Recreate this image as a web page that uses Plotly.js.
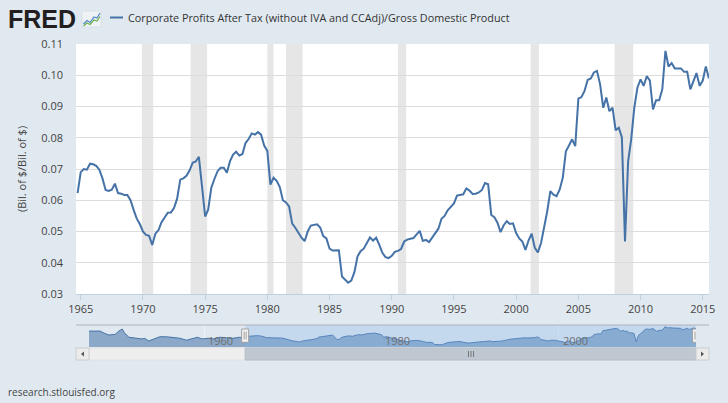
<!DOCTYPE html>
<html><head><meta charset="utf-8">
<script src="https://cdn.plot.ly/plotly-3.0.1.min.js"></script>
<style>html,body{margin:0;padding:0;background:#e1e9f0;}#chart{width:728px;height:403px;}</style>
</head><body><div id="chart"></div>
<script>
// ---------------- DATA ----------------
const seriesName = 'Corporate Profits After Tax (without IVA and CCAdj)/Gross Domestic Product';
const yAxisTitle = '(Bil. of $/Bil. of $)';
const sourceText = 'research.stlouisfed.org';
// quarterly observations starting 1964 Q4 (1964-10-01), ending 2015 Q3
const firstQuarterYear = 1964;
const firstQuarterIndex = 3; // Q4
const profitShare = [
 0.0623,0.0690,0.0700,0.0698,0.0717,0.0715,0.0710,0.0698,0.0670,0.0633,
 0.0630,0.0634,0.0653,0.0623,0.0621,0.0617,0.0617,0.0600,0.0570,0.0542,
 0.0524,0.0500,0.0489,0.0486,0.0457,0.0493,0.0504,0.0530,0.0545,0.0560,
 0.0561,0.0575,0.0605,0.0666,0.0670,0.0678,0.0695,0.0720,0.0724,0.0739,
 0.0645,0.0548,0.0570,0.0640,0.0668,0.0693,0.0704,0.0704,0.0688,0.0725,
 0.0746,0.0755,0.0743,0.0748,0.0783,0.0796,0.0814,0.0810,0.0818,0.0810,
 0.0775,0.0758,0.0650,0.0672,0.0662,0.0642,0.0600,0.0593,0.0580,0.0525,
 0.0512,0.0495,0.0480,0.0469,0.0500,0.0519,0.0520,0.0523,0.0513,0.0485,
 0.0478,0.0445,0.0439,0.0439,0.0440,0.0356,0.0347,0.0336,0.0343,0.0370,
 0.0420,0.0437,0.0445,0.0463,0.0481,0.0471,0.0480,0.0457,0.0432,0.0418,
 0.0415,0.0422,0.0435,0.0438,0.0444,0.0468,0.0474,0.0477,0.0479,0.0491,
 0.0502,0.0470,0.0473,0.0466,0.0480,0.0492,0.0509,0.0541,0.0550,0.0568,
 0.0578,0.0590,0.0615,0.0618,0.0619,0.0638,0.0631,0.0620,0.0621,0.0625,
 0.0633,0.0655,0.0651,0.0553,0.0546,0.0528,0.0498,0.0520,0.0533,0.0524,
 0.0526,0.0495,0.0478,0.0468,0.0441,0.0472,0.0493,0.0448,0.0433,0.0463,
 0.0511,0.0564,0.0629,0.0618,0.0613,0.0634,0.0672,0.0757,0.0775,0.0795,
 0.0773,0.0925,0.0930,0.0950,0.0985,0.0990,0.1009,0.1014,0.0971,0.0896,
 0.0929,0.0885,0.0896,0.0824,0.0832,0.0802,0.0468,0.0725,0.0795,0.0896,
 0.0961,0.0987,0.0966,0.0997,0.0983,0.0891,0.0920,0.0920,0.0955,0.1078,
 0.1028,0.1039,0.1022,0.1022,0.1022,0.1011,0.1011,0.0955,0.0983,0.1007,
 0.0966,0.0983,0.1028,0.0990
];
// earlier history shown only in the navigator (read from the small navigator strip)
const earlyDates = ['1947-01-01','1947-07-01','1948-01-01','1948-04-01','1948-10-01','1949-04-01',
 '1950-01-01','1950-04-01','1950-10-01','1951-01-01','1951-07-01','1952-04-01','1953-01-01',
 '1953-04-01','1953-10-01','1954-04-01','1955-01-01','1955-10-01','1956-07-01','1957-04-01',
 '1958-01-01','1958-10-01','1959-04-01','1959-10-01','1960-07-01','1961-01-01','1961-10-01',
 '1962-07-01','1963-04-01','1964-01-01'];
const earlyValues = [0.090,0.090,0.088,0.090,0.081,0.074,0.077,0.087,0.0985,0.083,0.065,0.061,0.058,
 0.061,0.050,0.057,0.067,0.067,0.065,0.061,0.053,0.061,0.065,0.058,0.061,0.058,0.065,0.063,0.061,0.065];
const tickYears = [1965,1970,1975,1980,1985,1990,1995,2000,2005,2010,2015];
const navTickYears = [1960,1980,2000];
const recessionStarts = ['1969-12-01','1973-11-01','1980-01-01','1981-07-01','1990-07-01','2001-03-01','2007-12-01'];
const recessionEnds   = ['1970-11-01','1975-03-01','1980-07-01','1982-11-01','1991-03-01','2001-11-01','2009-06-01'];
const viewStart = '1964-08-15', viewEnd = '2015-07-03';
const navStart = '1947-01-01', navEnd = '2015-07-01';

// ---------------- BUILD ----------------
const quarterDates = profitShare.map((v, j) => {
  const m = firstQuarterIndex + j;
  const yr = firstQuarterYear + Math.floor(m / 4);
  const mo = (m % 4) * 3 + 1;
  return yr + '-' + String(mo).padStart(2, '0') + '-01';
});

const W = 728, H = 403, mL = 76, mR = 19, mT = 44, mB = 43;
const pw = W - mL - mR, ph = H - mT - mB;
const X = px => (px - mL) / pw;
const Y = py => (H - mB - py) / ph;

const lineColor = '#4572A7';
const font = 'Open Sans, Noto Sans, sans-serif';

const traces = [
  {x: quarterDates, y: profitShare, type: 'scatter', mode: 'lines',
   line: {color: lineColor, width: 2}, xaxis: 'x', yaxis: 'y', hoverinfo: 'skip'},
  {x: earlyDates.concat(quarterDates), y: earlyValues.concat(profitShare), type: 'scatter', mode: 'lines',
   line: {color: lineColor, width: 1}, fill: 'tozeroy', fillcolor: 'rgba(69,114,167,0.55)',
   xaxis: 'x2', yaxis: 'y2', hoverinfo: 'skip'}
];

const shapes = [];
// white main plot background
shapes.push({type: 'rect', xref: 'x domain', yref: 'y domain', x0: 0, x1: 1, y0: 0, y1: 1,
  fillcolor: '#ffffff', line: {width: 0}, layer: 'below'});
// recession bands
recessionStarts.forEach((s, i) => shapes.push({type: 'rect', xref: 'x', yref: 'y domain',
  x0: s, x1: recessionEnds[i], y0: 0, y1: 1, fillcolor: '#e6e6e6', line: {width: 0}, layer: 'below'}));
// header icon
shapes.push({type: 'rect', xref: 'paper', yref: 'paper', x0: X(82), x1: X(101), y0: Y(27), y1: Y(11),
  fillcolor: '#eef2f5', line: {color: '#cfd8e0', width: 0.6}});
const pth = pts => 'M' + pts.map(p => X(p[0]) + ',' + Y(p[1])).join(' L');
shapes.push({type: 'path', xref: 'paper', yref: 'paper', path: pth([[83.5,24],[87,20.5],[90,22.5],[94,17],[97,18],[100,13]]),
  line: {color: '#4f86c6', width: 1.2}});
shapes.push({type: 'path', xref: 'paper', yref: 'paper', path: pth([[83.5,26],[87,23],[90,24.5],[94,20],[97,21],[100,16.5]]),
  line: {color: '#6fb04a', width: 1.2}});
// legend swatch
shapes.push({type: 'line', xref: 'paper', yref: 'paper', x0: X(110), x1: X(123), y0: Y(17.5), y1: Y(17.5),
  line: {color: lineColor, width: 2}});
// navigator selected mask
shapes.push({type: 'rect', xref: 'x2', yref: 'paper', x0: viewStart, x1: viewEnd, y0: Y(347), y1: Y(325),
  fillcolor: 'rgba(128,179,236,0.3)', line: {width: 0}, layer: 'above'});
// navigator top outline
shapes.push({type: 'line', xref: 'paper', yref: 'paper', x0: X(76), x1: X(709), y0: Y(325), y1: Y(325),
  line: {color: '#b2b1b6', width: 1}});
// scrollbar track
shapes.push({type: 'rect', xref: 'paper', yref: 'paper', x0: X(89), x1: X(696), y0: Y(360), y1: Y(348),
  fillcolor: '#eeeeee', line: {color: '#e2e2e2', width: 1}});
// scrollbar thumb
shapes.push({type: 'rect', xref: 'x2', yref: 'paper', x0: viewStart, x1: viewEnd, y0: Y(360), y1: Y(348),
  fillcolor: '#bfc8d1', line: {color: '#b5bec8', width: 1}});
[468.5, 471, 473.5].forEach(px => shapes.push({type: 'line', xref: 'paper', yref: 'paper',
  x0: X(px), x1: X(px), y0: Y(357), y1: Y(351), line: {color: '#777', width: 1}}));
// scrollbar buttons
[[76, 89], [696, 709]].forEach(b => shapes.push({type: 'rect', xref: 'paper', yref: 'paper',
  x0: X(b[0]), x1: X(b[1]), y0: Y(360), y1: Y(348), fillcolor: '#ebebeb', line: {color: '#cccccc', width: 1}}));
shapes.push({type: 'path', xref: 'paper', yref: 'paper', path: pth([[84,351.5],[84,356.5],[81,354]]) + ' Z',
  fillcolor: '#555', line: {width: 0}});
shapes.push({type: 'path', xref: 'paper', yref: 'paper', path: pth([[701,351.5],[701,356.5],[704,354]]) + ' Z',
  fillcolor: '#555', line: {width: 0}});
// navigator handles
[viewStart, viewEnd].forEach(d => {
  shapes.push({type: 'rect', xref: 'x2', yref: 'paper', xsizemode: 'pixel', xanchor: d, x0: -3.5, x1: 3.5,
    y0: Y(342.3), y1: Y(329), fillcolor: '#f4f4f4', line: {color: '#a0a0a0', width: 1}});
  [-1, 1].forEach(o => shapes.push({type: 'line', xref: 'x2', yref: 'paper', xsizemode: 'pixel', xanchor: d,
    x0: o, x1: o, y0: Y(339.5), y1: Y(331.5), line: {color: '#a0a0a0', width: 1}}));
});

const annotations = [
  {text: 'FRED', xref: 'paper', yref: 'paper', x: X(6), y: Y(19), xanchor: 'left', yanchor: 'middle',
   showarrow: false, font: {family: 'Liberation Sans, Arial, sans-serif', size: 25, weight: 700, color: '#231f20'}},
  {text: seriesName, xref: 'paper', yref: 'paper', x: X(126), y: Y(17.5), xanchor: 'left', yanchor: 'middle',
   showarrow: false, font: {family: font, size: 10.8, color: '#333333'}},
  {text: sourceText, xref: 'paper', yref: 'paper', x: X(6), y: Y(392), xanchor: 'left', yanchor: 'middle',
   showarrow: false, font: {family: font, size: 10, color: '#444444'}}
];
navTickYears.forEach(y => annotations.push({text: String(y), xref: 'x2', yref: 'paper', x: y + '-01-01',
  y: Y(340.5), xanchor: 'left', yanchor: 'middle', xshift: 2, showarrow: false,
  font: {family: font, size: 11, color: '#6f6f6f'}}));

const layout = {
  width: W, height: H,
  margin: {l: mL, r: mR, t: mT, b: mB, pad: 0},
  paper_bgcolor: '#e1e9f0', plot_bgcolor: '#e1e9f0',
  showlegend: false,
  font: {family: font, size: 11, color: '#444444'},
  xaxis: {type: 'date', range: [viewStart, viewEnd], anchor: 'y', domain: [0, 1],
    tickvals: tickYears.map(y => y + '-01-01'), ticktext: tickYears.map(String),
    ticks: 'outside', ticklen: 5, tickcolor: '#C0D0E0', tickwidth: 1,
    showline: true, linecolor: '#C0D0E0', linewidth: 1, showgrid: false, zeroline: false,
    tickfont: {family: font, size: 11, color: '#444444'}},
  yaxis: {range: [0.03, 0.11], domain: [Y(294), 1], anchor: 'x', dtick: 0.01, tick0: 0.03, tickformat: '.2f',
    showgrid: true, gridcolor: '#dcdcdc', gridwidth: 1, zeroline: false, showline: false, ticks: '',
    ticklabelstandoff: 12, tickfont: {family: font, size: 11, color: '#444444'},
    title: {text: yAxisTitle, standoff: 12, font: {family: font, size: 11, color: '#444444'}}},
  xaxis2: {type: 'date', range: [navStart, navEnd], anchor: 'y2', domain: [X(89), X(696)],
    showticklabels: false, ticks: '', showline: false, zeroline: false,
    showgrid: true, gridcolor: 'rgba(255,255,255,0.45)', tickvals: navTickYears.map(y => y + '-01-01')},
  yaxis2: {range: [0.0255, 0.1147], domain: [Y(347), Y(325)], anchor: 'x2', visible: false, fixedrange: true},
  shapes: shapes,
  annotations: annotations
};

Plotly.newPlot('chart', traces, layout, {staticPlot: true, displayModeBar: false});
</script>
</body></html>
